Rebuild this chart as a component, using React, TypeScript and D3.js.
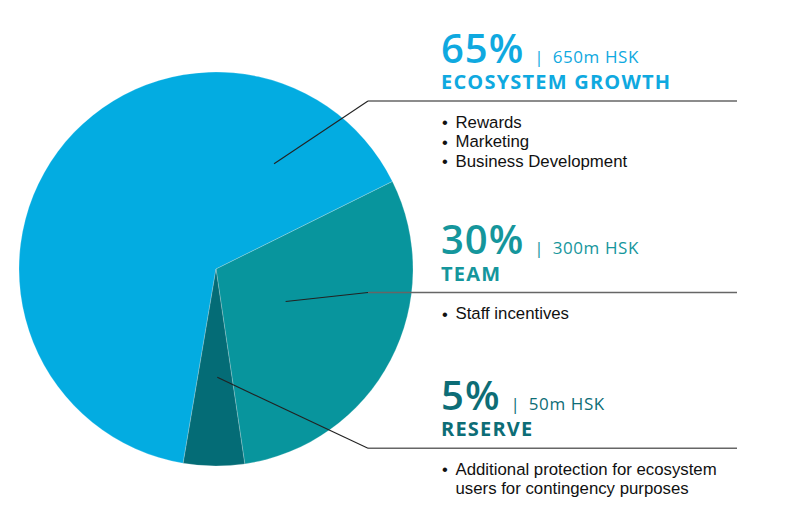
import React from "react";
import * as d3 from "d3";

const categories = ["ECOSYSTEM GROWTH", "TEAM", "RESERVE"];
const shares = [65, 30, 5];
const amounts = ["650m HSK", "300m HSK", "50m HSK"];
const bullets: string[][][] = [
  [["Rewards"], ["Marketing"], ["Business Development"]],
  [["Staff incentives"]],
  [["Additional protection for ecosystem", "users for contingency purposes"]],
];

const sliceColors = ["#03ace1", "#08959d", "#046c76"];
const textColors = ["#0fa9e0", "#15969c", "#0d6d76"];

// layout
const W = 785;
const H = 531;
const cx = 216;
const cy = 269;
const R = 197;
const startDeg = -170.4;
// leader anchor inside each slice: [angle deg, radius fraction]
const anchors: [number, number][] = [
  [28.9, 0.61],
  [115, 0.39],
  [179.3, 0.55],
];
const ruleY = [101, 292.5, 448.3];
const elbowX = 368;
const ruleEnd = 737;
const textX = 441;

export default function App() {
  const pie = d3
    .pie<number>()
    .sort(null)
    .value((d) => d)
    .startAngle((startDeg * Math.PI) / 180)
    .endAngle((startDeg * Math.PI) / 180 + 2 * Math.PI);
  const arcs = pie(shares);
  const arc = d3.arc<d3.PieArcDatum<number>>().innerRadius(0).outerRadius(R);
  const rScale = d3.scaleLinear().domain([0, 1]).range([0, R]);

  return (
    <svg
      width={W}
      height={H}
      style={{ position: "absolute", left: 0, top: 0, background: "#fff" }}
    >
      <g transform={`translate(${cx},${cy})`}>
        {arcs.map((a, i) => (
          <path
            key={i}
            d={arc(a) || ""}
            fill={sliceColors[i]}
            stroke="#ffffff"
            strokeOpacity={0.35}
            strokeWidth={0.6}
          />
        ))}
      </g>
      {categories.map((c, i) => {
        const [deg, frac] = anchors[i];
        const rad = (deg * Math.PI) / 180;
        const ax = cx + rScale(frac) * Math.sin(rad);
        const ay = cy - rScale(frac) * Math.cos(rad);
        const ly = ruleY[i];
        return (
          <g key={c}>
            <polyline
              points={`${ax},${ay} ${elbowX},${ly}`}
              fill="none"
              stroke="#222"
              strokeWidth={1.1}
            />
            <line
              x1={elbowX}
              x2={ruleEnd}
              y1={ly}
              y2={ly}
              stroke="#666"
              strokeWidth={1.5}
            />
            <text
              x={textX}
              y={ly - 38.5}
              fill={textColors[i]}
              fontFamily="'Open Sans', sans-serif"
            >
              <tspan fontSize={40} fontWeight={600} letterSpacing={1}>
                {shares[i]}%
              </tspan>
              <tspan fontSize={17} fontWeight={400} dx={10}>
                |
              </tspan>
              <tspan fontSize={17} fontWeight={400} dx={9} letterSpacing={0.6}>
                {amounts[i]}
              </tspan>
            </text>
            <text
              x={textX}
              y={ly - 12}
              fill={textColors[i]}
              fontFamily="'Open Sans', sans-serif"
              fontSize={20}
              fontWeight={700}
              letterSpacing={1.2}
            >
              {c}
            </text>
            {(() => {
              let line = 0;
              return bullets[i].map((item, j) => {
                const startLine = line;
                line += item.length;
                return (
                  <g key={j}>
                    <text
                      x={textX + 1}
                      y={ly + 27 + startLine * 19.7}
                      fontFamily="'Liberation Sans', Arial, sans-serif"
                      fontSize={16.5}
                      fill="#111"
                    >
                      •
                    </text>
                    {item.map((t, k) => (
                      <text
                        key={k}
                        x={textX + 14.5}
                        y={ly + 26.5 + (startLine + k) * 19.5}
                        fontFamily="'Liberation Sans', Arial, sans-serif"
                        fontSize={16.8}
                        fill="#111"
                      >
                        {t}
                      </text>
                    ))}
                  </g>
                );
              });
            })()}
          </g>
        );
      })}
    </svg>
  );
}
